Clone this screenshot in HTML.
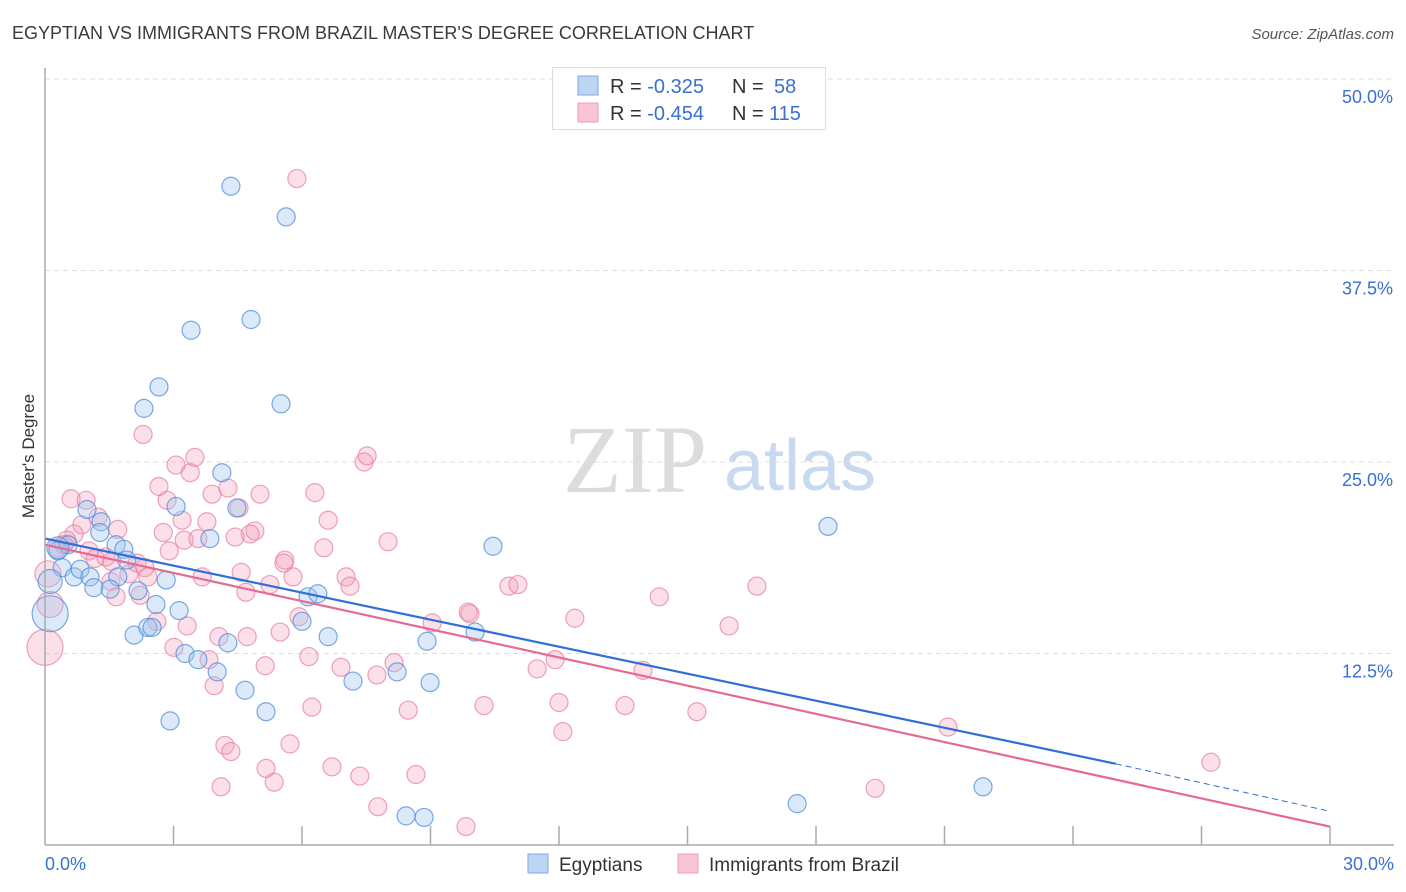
<!DOCTYPE html>
<html><head><meta charset="utf-8"><style>
body{margin:0;background:#fff;font-family:"Liberation Sans",sans-serif;}
#wrap{position:relative;width:1406px;height:892px;overflow:hidden;}
</style></head><body>
<div id="wrap">
<svg id="svg" width="1406" height="892" xmlns="http://www.w3.org/2000/svg">
<text x="12" y="39" font-size="18" fill="#3a3a3a">EGYPTIAN VS IMMIGRANTS FROM BRAZIL MASTER'S DEGREE CORRELATION CHART</text>
<text x="1394" y="39" font-size="15" font-style="italic" fill="#555" text-anchor="end">Source: ZipAtlas.com</text>
<text x="34" y="456" font-size="17" fill="#333" text-anchor="middle" transform="rotate(-90 34 456)">Master's Degree</text>
<g><text x="635" y="492" font-size="96" font-family="Liberation Serif,serif" fill="#dcdcdc" text-anchor="middle">ZIP</text><text x="800" y="490" font-size="72" fill="#c9daf0" text-anchor="middle">atlas</text></g>
<g id="grid"></g><g id="pts"></g><g id="lines"></g><g id="axes"></g>
<g>
<rect x="552.5" y="67.5" width="273" height="62" fill="#fff" stroke="#ddd"/>
<rect x="578" y="76" width="20" height="19" fill="#bcd5f3" stroke="#7aa8e6"/>
<rect x="578" y="103" width="20" height="19" fill="#f9c5d4" stroke="#ee9bb6"/>
<text x="610" y="93" font-size="20" fill="#333">R = <tspan fill="#3a70d0">-0.325</tspan><tspan x="732">N = </tspan><tspan x="774" fill="#3a70d0">58</tspan></text>
<text x="610" y="120" font-size="20" fill="#333">R = <tspan fill="#3a70d0">-0.454</tspan><tspan x="732">N = </tspan><tspan x="769" fill="#3a70d0">115</tspan></text>
</g>
<g>
<rect x="528" y="854" width="20" height="19" fill="#bcd5f3" stroke="#7aa8e6"/>
<text x="559" y="871" font-size="19" fill="#333">Egyptians</text>
<rect x="678" y="854" width="20" height="19" fill="#f9c5d4" stroke="#ee9bb6"/>
<text x="709" y="871" font-size="19" fill="#333">Immigrants from Brazil</text>
</g>
</svg>
</div>
<script>
const yTicks=[12.5,25,37.5,50];
const yTickLabels=["12.5%","25.0%","37.5%","50.0%"];
const xTickLabels=["0.0%","30.0%"];
const blueX=[4.34,5.63,3.41,4.81,2.66,2.31,5.51,4.13,3.06,4.48,3.85,1.31,0.98,0.30,0.54,0.40,0.68,0.82,1.05,1.14,1.28,1.66,1.84,1.91,1.70,1.52,2.17,2.83,2.59,3.13,2.08,2.40,2.50,3.27,3.57,4.02,4.27,4.67,5.16,2.92,6.14,6.37,6.00,6.61,7.19,8.22,8.92,8.99,10.04,10.46,18.28,17.56,21.90,8.43,8.85,0.12,0.12,0.30];
const blueY=[43.0,41.0,33.6,34.3,29.9,28.5,28.8,24.3,22.1,22.0,20.0,21.1,21.9,19.2,19.6,18.1,17.5,18.0,17.5,16.8,20.4,19.6,19.3,18.6,17.5,16.7,16.6,17.3,15.7,15.3,13.7,14.2,14.2,12.5,12.1,11.3,13.2,10.1,8.7,8.1,16.2,16.4,14.6,13.6,10.7,11.3,13.3,10.6,13.9,19.5,20.8,2.7,3.8,1.9,1.8,15.1,17.2,19.4];
const blueR=[9,9,9,9,9,9,9,9,9,9,9,9,9,9,9,9,9,9,9,9,9,9,9,9,9,9,9,9,9,9,9,9,9,9,9,9,9,9,9,9,9,9,9,9,9,9,9,9,9,9,9,9,9,9,9,18,12,11];
const pinkX=[5.88,2.29,7.45,7.52,3.50,3.06,3.39,2.66,2.85,3.90,4.27,5.02,6.30,4.53,0.61,0.96,1.24,0.86,0.68,0.51,0.30,0.44,1.03,1.17,1.42,1.56,1.70,1.96,2.15,2.33,2.40,2.76,3.20,3.25,2.90,3.78,3.57,4.90,4.79,4.44,6.61,6.51,8.01,5.60,5.79,4.58,4.69,5.25,7.03,7.12,5.58,3.67,1.54,1.66,2.22,2.61,3.32,4.06,4.72,5.49,5.93,3.01,3.83,5.14,6.16,6.91,7.75,8.15,9.04,9.88,9.92,10.83,11.04,12.37,14.34,16.62,15.97,11.91,11.49,13.96,15.22,10.25,12.00,13.54,8.48,6.23,3.95,12.09,4.20,4.34,5.72,5.16,6.70,7.35,8.66,5.35,4.11,7.77,9.83,19.38,21.08,27.22,0.0,0.12,0.07];
const pinkY=[43.5,26.8,25.0,25.4,25.3,24.8,24.3,23.4,22.5,22.9,23.3,22.9,23.0,22.0,22.6,22.5,21.4,20.9,20.3,19.9,19.4,19.6,19.2,18.7,18.8,18.5,20.6,17.7,18.4,18.1,17.5,20.4,21.2,19.9,19.2,21.1,20.0,20.5,20.3,20.1,21.2,19.4,19.8,18.6,17.5,17.8,16.5,17.0,17.5,16.9,18.4,17.5,17.2,16.2,16.3,14.6,14.3,13.6,13.6,13.9,14.9,12.9,12.1,11.7,12.3,11.6,11.1,11.9,14.5,15.2,15.1,16.9,17.0,14.8,16.2,16.9,14.3,12.1,11.5,11.4,8.7,9.1,9.3,9.1,8.8,9.0,10.4,7.4,6.5,6.1,6.6,5.0,5.1,4.5,4.6,4.1,3.8,2.5,1.2,3.7,7.7,5.4,12.9,15.7,17.7];
const blueTrend=[20.0,5.3,2.2];
const pinkTrend=[19.6,1.2];
const NS="http://www.w3.org/2000/svg";
const X0=45,X1=1330,Y0=845,YTOP=79;
function sx(v){return X0+(X1-X0)*v/30;}
function sy(v){return Y0-(Y0-YTOP)*v/50;}
function mk(tag,attrs,parent){const e=document.createElementNS(NS,tag);for(const k in attrs)e.setAttribute(k,attrs[k]);document.getElementById(parent).appendChild(e);return e;}
yTicks.forEach((t,i)=>{
 const g=mk('line',{x1:45,x2:1394,y1:sy(t),y2:sy(t),stroke:'#ddd','stroke-dasharray':'5,4'},'grid');
 
 
 const l=mk('text',{x:1393,y:sy(t)+24,'font-size':18,fill:'#3a70d0','text-anchor':'end'},'axes');
 l.textContent=yTickLabels[i];
 
 
});
const pinkPts=[];
pinkX.forEach((x,i)=>{
 const r=i>=pinkX.length-3?(i==pinkX.length-3?18:13):9;
 const c=mk('circle',{cx:sx(x),cy:sy(pinkY[i]),r:r,fill:'rgba(244,160,186,0.32)',stroke:'rgba(232,130,164,0.75)','stroke-width':1.2},'pts');
 
 
});
blueX.forEach((x,i)=>{
 const c=mk('circle',{cx:sx(x),cy:sy(blueY[i]),r:blueR[i],fill:'rgba(160,196,240,0.38)',stroke:'rgba(80,140,220,0.75)','stroke-width':1.2},'pts');
 
 
});
let b1=mk('line',{x1:sx(0),y1:sy(blueTrend[0]),x2:sx(25),y2:sy(blueTrend[1]),stroke:'#2f6fd6','stroke-width':2.2},'lines');


let b2=mk('line',{x1:sx(25),y1:sy(blueTrend[1]),x2:sx(30),y2:sy(blueTrend[2]),stroke:'#2f6fd6','stroke-width':1,'stroke-dasharray':'6,4'},'lines');


let p1=mk('line',{x1:sx(0),y1:sy(pinkTrend[0]),x2:sx(30),y2:sy(pinkTrend[1]),stroke:'#e56a97','stroke-width':2.2},'lines');


let ax=mk('line',{x1:45,x2:45,y1:68,y2:845,stroke:'#aaa','stroke-width':1.5},'axes');


let bx=mk('line',{x1:45,x2:1394,y1:845,y2:845,stroke:'#aaa','stroke-width':1.5},'axes');


for(let k=1;k<=10;k++){
 const t=mk('line',{x1:sx(k*3),x2:sx(k*3),y1:826,y2:845,stroke:'#aaa','stroke-width':1.5},'axes');
 
 
}
[[0,'start',45],[30,'end',1394]].forEach((d,i)=>{
 const l=mk('text',{x:d[2],y:870,'font-size':18,fill:'#3a70d0','text-anchor':d[1]},'axes');
 l.textContent=xTickLabels[i];
 
 
});
</script>
</body></html>
